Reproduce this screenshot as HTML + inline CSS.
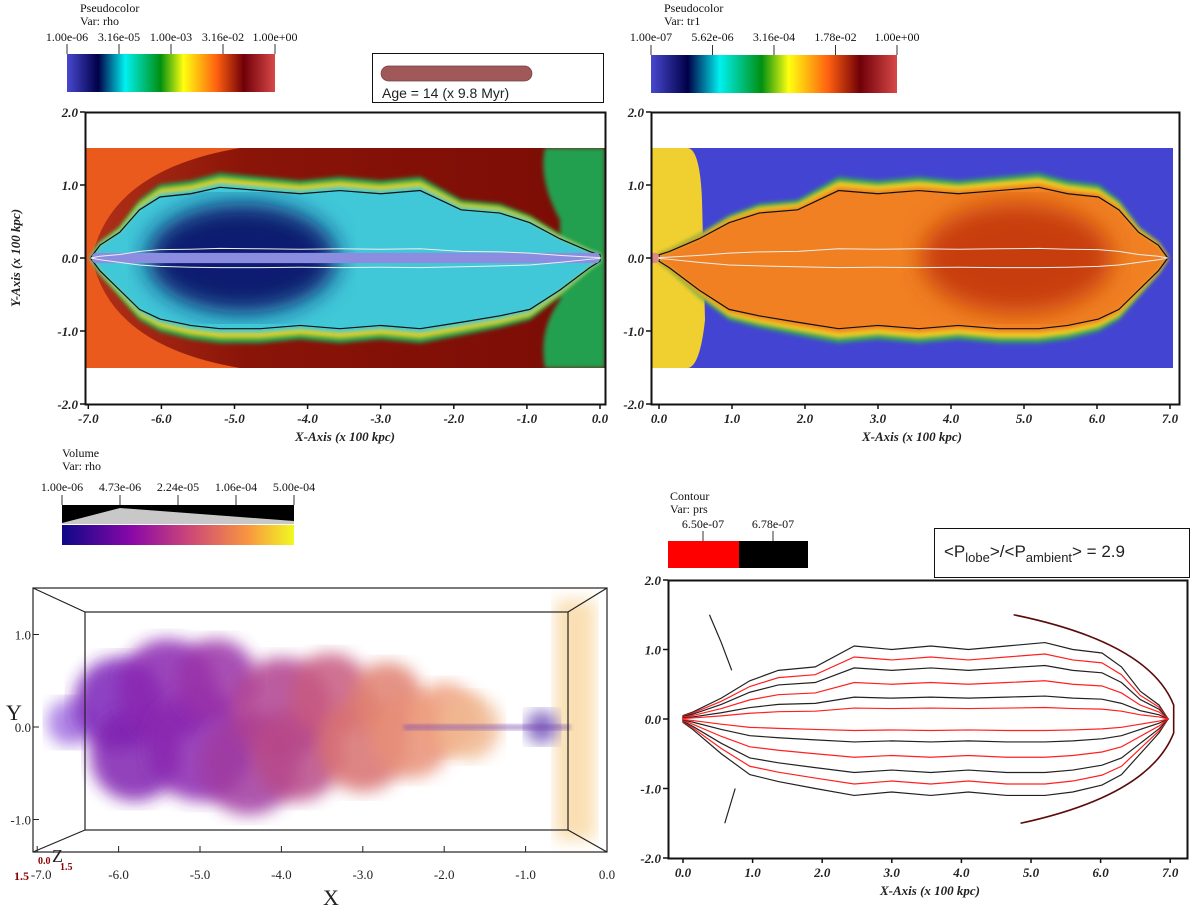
<!DOCTYPE html>
<html><head><meta charset="utf-8"><style>
html,body{margin:0;padding:0;background:#fff;}
svg{display:block;font-family:"Liberation Serif",serif;}
.tk{font:bold italic 13px "Liberation Serif",serif;fill:#222;}
.ttl{font:bold italic 13px "Liberation Serif",serif;fill:#222;}
.lg{font:12px "Liberation Serif",serif;fill:#111;}
.t3{font:13px "Liberation Serif",serif;fill:#222;}
</style></head><body>
<svg id="fig" width="1200" height="910" viewBox="0 0 1200 910">
<defs>
<linearGradient id="cb1" x1="0" x2="1"><stop offset="0" stop-color="#4848d0"/><stop offset="0.15" stop-color="#000048"/><stop offset="0.28" stop-color="#00f0f0"/><stop offset="0.45" stop-color="#009010"/><stop offset="0.56" stop-color="#ffff10"/><stop offset="0.72" stop-color="#ff6010"/><stop offset="0.85" stop-color="#700008"/><stop offset="1" stop-color="#d84848"/></linearGradient>
<linearGradient id="plasma" x1="0" x2="1"><stop offset="0" stop-color="#0d0887"/><stop offset="0.3" stop-color="#8a08a8"/><stop offset="0.55" stop-color="#cc4778"/><stop offset="0.8" stop-color="#f89540"/><stop offset="1" stop-color="#f0f921"/></linearGradient>
<linearGradient id="shell" x1="0" x2="1"><stop offset="0" stop-color="#b03018"/><stop offset="0.3" stop-color="#8a1408"/><stop offset="1" stop-color="#7a0c06"/></linearGradient>
<filter id="b2"><feGaussianBlur stdDeviation="2"/></filter>
<filter id="b6"><feGaussianBlur stdDeviation="8"/></filter>
<filter id="b12"><feGaussianBlur stdDeviation="12"/></filter>
<clipPath id="c1"><rect x="85" y="148" width="520" height="220"/></clipPath>
<clipPath id="c2"><rect x="651" y="148" width="522" height="220"/></clipPath>
</defs>

<g>
<text class="lg" x="80" y="12">Pseudocolor</text>
<text class="lg" x="80" y="25">Var: rho</text>
<rect x="67" y="54" width="208" height="38" fill="url(#cb1)"/>
<g id="cb1ticks"></g>
</g>
<g>
<rect x="372.5" y="53.5" width="231" height="49" fill="#fff" stroke="#111"/>
<rect x="381" y="66" width="151" height="15" rx="7.5" fill="#a05858" stroke="#704040" stroke-width="0.7"/>
<text x="382" y="98" font-family="Liberation Sans" font-size="14" fill="#222">Age = 14 (x 9.8 Myr)</text>
</g>
<g>
<text class="lg" x="664" y="12">Pseudocolor</text>
<text class="lg" x="664" y="25">Var: tr1</text>
<rect x="651" y="55" width="246" height="38" fill="url(#cb1)"/>
<g id="cb2ticks"></g>
</g>

<g id="p1">
<g clip-path="url(#c1)">
<rect x="85" y="148" width="520" height="220" fill="#ea5a1c"/>
<path d="M605,148 L240,148 Q110,170 92,258 Q110,346 240,368 L605,368 Z" fill="url(#shell)"/>
<g id="p1lobe"></g>
</g>
<rect x="85.5" y="112.5" width="520" height="292" fill="none" stroke="#111" stroke-width="2"/>
<g id="p1ax"></g>
</g>

<g id="p2">
<g clip-path="url(#c2)">
<rect x="651" y="148" width="522" height="220" fill="#4444d2"/>
<path d="M651,148 L688,148 Q700,150 702,200 L705,320 Q700,366 688,368 L651,368 Z" fill="#f0d030"/>
<g id="p2lobe"></g>
</g>
<rect x="651.5" y="112.5" width="528" height="292" fill="none" stroke="#111" stroke-width="2"/>
<g id="p2ax"></g>
</g>

<g>
<text class="lg" x="62" y="457">Volume</text>
<text class="lg" x="62" y="470">Var: rho</text>
<rect x="62" y="505" width="232" height="19" fill="#000"/>
<polygon points="62,523 120,508 294,521 294,524 62,524" fill="#c8c8c8"/>
<rect x="62" y="525" width="232" height="20" fill="url(#plasma)"/>
<g id="cb3ticks"></g>
</g>

<g>
<text class="lg" x="670" y="500">Contour</text>
<text class="lg" x="670" y="513">Var: prs</text>
<rect x="668" y="541" width="71" height="27" fill="#ff0000"/>
<rect x="739" y="541" width="69" height="27" fill="#000"/>
<g id="cb4ticks"></g>
</g>
<g>
<rect x="934.5" y="528.5" width="255" height="49" fill="#fff" stroke="#111"/>
<text x="944" y="557" font-family="Liberation Sans" font-size="17" fill="#222">&lt;P<tspan font-size="13" dy="5">lobe</tspan><tspan dy="-5">&gt;/&lt;P</tspan><tspan font-size="13" dy="5">ambient</tspan><tspan dy="-5">&gt; = 2.9</tspan></text>
</g>

<g id="p3">
<g id="cloud"></g>
<g stroke="#222" stroke-width="1.2" fill="none">
<rect x="33" y="588" width="574" height="264"/>
<rect x="85" y="612" width="483" height="218"/>
<line x1="33" y1="588" x2="85" y2="612"/><line x1="607" y1="588" x2="568" y2="612"/>
<line x1="33" y1="852" x2="85" y2="830"/><line x1="607" y1="852" x2="568" y2="830"/>
</g>
<g id="p3ax"></g>
<text x="323" y="905" font-size="22" fill="#222">X</text>
<text x="6" y="720" font-size="22" fill="#222">Y</text>
<text x="52" y="862" font-size="18" fill="#222">Z</text>
<text x="60" y="870" font-size="10" font-weight="bold" fill="#8b0000">1.5</text>
<text x="38" y="864" font-size="10" font-weight="bold" fill="#8b0000">0.0</text>
<text x="14" y="880" font-size="12" font-weight="bold" fill="#8b0000">1.5</text>
</g>

<g id="p4">
<g id="p4c"></g>
<rect x="668.5" y="580.5" width="519" height="278" fill="none" stroke="#111" stroke-width="2"/>
<g id="p4ax"></g>
</g>
</svg>
<script>
const cb1Labels = ["1.00e-06","3.16e-05","1.00e-03","3.16e-02","1.00e+00"];
const cb2Labels = ["1.00e-07","5.62e-06","3.16e-04","1.78e-02","1.00e+00"];
const cb3Labels = ["1.00e-06","4.73e-06","2.24e-05","1.06e-04","5.00e-04"];
const cb4Labels = ["6.50e-07","6.78e-07"];
const yTicks = [2.0, 1.0, 0.0, -1.0, -2.0];
const xTicksNeg = [-7,-6,-5,-4,-3,-2,-1,0];
const xTicksPos = [0,1,2,3,4,5,6,7];
const y3Ticks = [1.0, 0.0, -1.0];
const lobeX = [-6.97,-6.84,-6.57,-6.3,-6.02,-5.6,-5.2,-4.65,-4.1,-3.56,-3.0,-2.46,-1.9,-1.37,-0.96,-0.55,-0.14,0];
const lobeTop = [0.0,0.2,0.4,0.75,0.95,1.0,1.1,1.05,1.0,1.05,1.0,1.05,0.75,0.7,0.55,0.3,0.1,0.05];
const lobeBot = [0.0,-0.2,-0.5,-0.8,-0.95,-1.05,-1.1,-1.1,-1.05,-1.1,-1.05,-1.1,-1.0,-0.9,-0.8,-0.5,-0.15,-0.05];
const cloudX = [-6.6,-6.0,-5.8,-5.4,-5.0,-4.8,-4.4,-4.0,-3.8,-3.4,-3.0,-2.7,-2.4,-2.0,-1.7,-0.8];
const cloudY = [0.05,0.25,-0.3,0.4,-0.2,0.5,-0.4,0.2,-0.3,0.35,-0.2,0.3,-0.1,0.1,0.0,0.0];
const cloudR = [0.25,0.5,0.5,0.55,0.6,0.45,0.55,0.55,0.5,0.45,0.5,0.4,0.45,0.38,0.35,0.18];
const cloudC = ["#a070e0","#7a20b8","#8020b0","#8a28b0","#8a28b0","#9a30a8","#a03aa0","#b04090","#b84a88","#c85a80","#d87070","#e08070","#e89078","#eea080","#f0b890","#7050b8"];

const NS="http://www.w3.org/2000/svg";
function mk(tag, attrs, parent, txt){const e=document.createElementNS(NS,tag);for(const k in attrs)e.setAttribute(k,attrs[k]);if(txt!==undefined)e.textContent=txt;parent.appendChild(e);return e;}
const $=id=>document.getElementById(id);

function colorbarTicks(g, labels, x0, w, yTick, yLab, fs){
  labels.forEach((l,i)=>{const x=labels.length>2?x0+w*i/(labels.length-1):x0+w*(i+0.5)/labels.length;
    const ln=mk('line',{x1:x,y1:yTick,x2:x,y2:yTick+10,stroke:'#333','stroke-width':1},g);
    
    
    const t=mk('text',{x:x,y:yLab,'text-anchor':'middle',class:'lg','font-size':fs||12},g,l);
    
    
  });
}
colorbarTicks($('cb1ticks'),cb1Labels,67,208,44,41);
colorbarTicks($('cb2ticks'),cb2Labels,651,246,45,41);
colorbarTicks($('cb3ticks'),cb3Labels,62,232,495,491);
colorbarTicks($('cb4ticks'),cb4Labels,668,140,531,528,11);

function axes(g, xs, sx, sy, left, bottom){
  yTicks.forEach(v=>{const y=sy(v);
    mk('line',{x1:left-5,y1:y,x2:left,y2:y,stroke:'#111','stroke-width':1.5},g);
    const t=mk('text',{x:left-7,y:y+5,'text-anchor':'end',class:'tk'},g,v.toFixed(1));
    
    
  });
  xs.forEach(v=>{const x=sx(v);
    mk('line',{x1:x,y1:bottom,x2:x,y2:bottom+5,stroke:'#111','stroke-width':1.5},g);
    const t=mk('text',{x:x,y:bottom+19,'text-anchor':'middle',class:'tk'},g,v.toFixed(1));
    
    
  });
}
const sx1=v=>600+73.1*v, sy1=v=>258-73*v;
axes($('p1ax'),xTicksNeg,sx1,sy1,85,404);
let tt=mk('text',{x:345,y:441,'text-anchor':'middle',class:'ttl'},$('p1ax'),'X-Axis (x 100 kpc)');

tt=mk('text',{x:0,y:0,'text-anchor':'middle',class:'ttl',transform:'translate(20,258) rotate(-90)'},$('p1ax'),'Y-Axis (x 100 kpc)');

const sx2=v=>659+73*v, sy2=sy1;
axes($('p2ax'),xTicksPos,sx2,sy2,651,404);
tt=mk('text',{x:912,y:441,'text-anchor':'middle',class:'ttl'},$('p2ax'),'X-Axis (x 100 kpc)');


function lobePath(sx,sy,flip,scale){
  const X=v=>sx(flip?-v:v);
  let d='M'+X(lobeX[0])+','+sy(lobeTop[0]*scale);
  for(let i=1;i<lobeX.length;i++) d+=' L'+X(lobeX[i])+','+sy(lobeTop[i]*scale);
  for(let i=lobeX.length-1;i>=0;i--) d+=' L'+X(lobeX[i])+','+sy(lobeBot[i]*scale);
  return d+'Z';
}
function drawLobe(g,sx,sy,flip,c){
  const edge=mk('path',{d:lobePath(sx,sy,flip,1.06),fill:c.edge2,filter:'url(#b2)'},g);
  
  mk('path',{d:lobePath(sx,sy,flip,1.0),fill:c.edge,filter:'url(#b2)'},g);
  const body=mk('path',{d:lobePath(sx,sy,flip,0.93),fill:c.body,filter:'url(#b2)'},g);
  
  const cx=sx(flip?4.9:-4.9);
  const core=mk('ellipse',{cx:cx,cy:sy(0),rx:95,ry:55,fill:c.core,filter:'url(#b12)'},g);
  
  mk('path',{d:lobePath(sx,sy,flip,0.88),fill:'none',stroke:'#111','stroke-width':1.2},g);
  const jet=mk('rect',{x:Math.min(sx(-6.95),sx(6.95)),y:sy(0.07),width:Math.abs(sx(6.95)-sx(0)),height:sy(-0.07)-sy(0.07),fill:c.jet,rx:4},g);
  
  mk('path',{d:lobePath(sx,sy,flip,0.12),fill:'none',stroke:'#eee','stroke-width':1},g);
}
mk('path',{d:'M545,148 L605,148 L605,368 L545,368 Q538,330 560,300 L560,220 Q538,180 545,148Z',fill:'#20a050',filter:'url(#b2)'},$('p1lobe'));
drawLobe($('p1lobe'),sx1,sy1,false,{edge2:'#20a050',edge:'#e8d020',body:'#40c8d8',core:'#0c1a70',jet:'#8c8ce0'});
drawLobe($('p2lobe'),sx2,sy2,true,{edge2:'#30a060',edge:'#f0d020',body:'#f08020',core:'#c83c10',jet:'#e08888'});

const sx3=v=>607+81.4*v, sy3=v=>727-92.5*v;
const g3=$('p3ax');
y3Ticks.forEach(v=>{const y=sy3(v);mk('line',{x1:33,y1:y,x2:39,y2:y,stroke:'#222'},g3);
  const t=mk('text',{x:31,y:y+5,'text-anchor':'end',class:'t3'},g3,v.toFixed(1));
  });
xTicksNeg.forEach(v=>{const x=sx3(v);mk('line',{x1:x,y1:852,x2:x,y2:846,stroke:'#222'},g3);
  const t=mk('text',{x:x+(v===-7?4:0),y:879,'text-anchor':'middle',class:'t3'},g3,v.toFixed(1));
  });
const cl=$('cloud');
mk('rect',{x:555,y:600,width:40,height:240,fill:'#f8d498',opacity:0.75,filter:'url(#b6)'},cl);
cloudX.forEach((v,i)=>{const e=mk('ellipse',{cx:sx3(v),cy:sy3(cloudY[i]),rx:81.4*cloudR[i]*1.1,ry:92.5*cloudR[i],fill:cloudC[i],opacity:0.85,filter:'url(#b6)'},cl);
  });
mk('rect',{x:sx3(-2.5),y:sy3(0.03),width:sx3(-0.45)-sx3(-2.5),height:6,fill:'#7a48b0',opacity:0.5,filter:'url(#b2)'},cl);

const sx4=v=>683+69.6*v, sy4=v=>719-69.5*v;
axes($('p4ax'),xTicksPos,sx4,sy4,668,858);
tt=mk('text',{x:930,y:895,'text-anchor':'middle',class:'ttl'},$('p4ax'),'X-Axis (x 100 kpc)');

const g4=$('p4c');
[1.0,0.85,0.7,0.5,0.3,0.15].forEach((s,i)=>{const p=mk('path',{d:lobePath(sx4,sy4,true,s),fill:'none',stroke:i%2? '#ff2020':'#222','stroke-width':1.2},g4);
  });
const bow=mk('path',{d:'M'+sx4(4.75)+','+sy4(1.5)+' Q'+sx4(6.7)+','+sy4(1.1)+' '+sx4(7.05)+','+sy4(0.2)+' L'+sx4(7.05)+','+sy4(-0.2)+' Q'+sx4(6.7)+','+sy4(-1.1)+' '+sx4(4.85)+','+sy4(-1.5),fill:'none',stroke:'#5a0a0a','stroke-width':1.6},g4);

mk('path',{d:'M'+sx4(0.38)+','+sy4(1.5)+' L'+sx4(0.55)+','+sy4(1.1)+' L'+sx4(0.7)+','+sy4(0.7)+' M'+sx4(0.6)+','+sy4(-1.5)+' L'+sx4(0.75)+','+sy4(-1.0),fill:'none',stroke:'#222','stroke-width':1.2},g4);
</script>
</body></html>
